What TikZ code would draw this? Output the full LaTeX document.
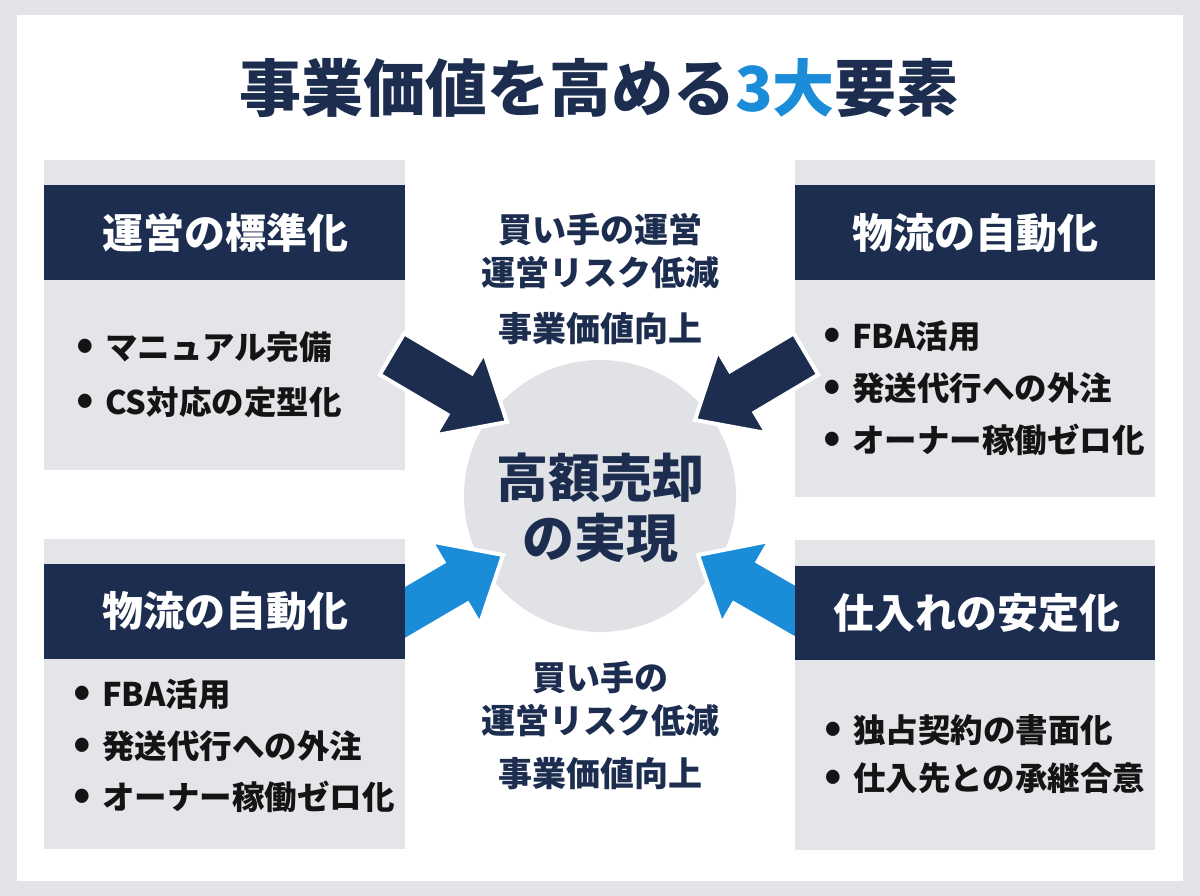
\documentclass[tikz,border=0pt]{standalone}
\usepackage{fontspec}
\setmainfont{Noto Sans CJK JP}
\usetikzlibrary{calc}
\definecolor{navy}{HTML}{1C2D4F}
\definecolor{skyblue}{HTML}{1A8CD8}
\definecolor{boxgray}{HTML}{E4E5E8}
\definecolor{circgray}{HTML}{E1E2E5}
\definecolor{pagegray}{HTML}{E2E4E7}
\definecolor{inkblack}{HTML}{141414}
\newcommand\blockarrow[3]{%
  \coordinate (hb) at ($(#3)!55pt!(#2)$);
  \filldraw[fill=#1, draw=white, line width=4pt, line join=miter]
    ($(#2)!24pt!90:(#3)$) -- ($(hb)!24pt!90:(#3)$) -- ($(hb)!48pt!90:(#3)$) -- (#3)
    -- ($(hb)!48pt!-90:(#3)$) -- ($(hb)!24pt!-90:(#3)$) -- ($(#2)!24pt!-90:(#3)$) -- cycle;}
\newcommand\bul[1]{\makebox[40pt][c]{\fontsize{44}{44}\selectfont •}#1}
\tikzset{
  fs/.style={font=\bfseries\fontsize{#1}{#1}\selectfont},
  panel/.style={fill=boxgray, draw=none},
  header/.style={fill=navy, draw=none},
  headtext/.style={fs=41, text=white, inner sep=0},
  item/.style={fs=32.5, text=inkblack, anchor=west, inner sep=0},
  midtext/.style={fs=34, text=navy, inner sep=0},
}
\begin{document}
\begin{tikzpicture}[x=1pt,y=-1pt]
\useasboundingbox (0,0) rectangle (1200,896);
\fill[pagegray] (0,0) rectangle (1200,896);
\fill[white] (17,15) rectangle (1183,881);

% title
\node[fs=62, text=navy, inner sep=0] (title) at (599,88) {事業価値を高める\textcolor{skyblue}{3大}要素};

% center circle
\node[circle, fill=circgray, minimum size=272pt, inner sep=0] (goal) at (600,496) {};
\node[fs=52, text=navy, inner sep=0] (goal1) at (600,478) {高額売却};
\node[fs=52, text=navy, inner sep=0] (goal2) at (600,538) {の実現};

% bottom arrows (behind boxes)
\coordinate (blA) at (375,630); \coordinate (blB) at (503,555);
\coordinate (brA) at (828,630); \coordinate (brB) at (698,555);
\blockarrow{skyblue}{blA}{blB}
\blockarrow{skyblue}{brA}{brB}

% top-left box
\fill[panel] (44,160) rectangle (405,470);
\fill[header] (44,185) rectangle (405,280);
\node[headtext] (tlh) at (225,233) {運営の標準化};
\node[item] (tl1) at (65,347) {\bul{マニュアル完備}};
\node[item] (tl2) at (65,402) {\bul{CS対応の定型化}};

% top-right box
\fill[panel] (795,160) rectangle (1155,497);
\fill[header] (795,185) rectangle (1155,280);
\node[headtext] (trh) at (975,233) {物流の自動化};
\node[item] (tr1) at (812,336) {\bul{FBA活用}};
\node[item] (tr2) at (812,388) {\bul{発送代行への外注}};
\node[item] (tr3) at (812,440) {\bul{オーナー稼働ゼロ化}};

% bottom-left box
\fill[panel] (44,539) rectangle (405,849);
\fill[header] (44,564) rectangle (405,659);
\node[headtext] (blh) at (225,611) {物流の自動化};
\node[item] (bl1) at (62,694) {\bul{FBA活用}};
\node[item] (bl2) at (62,746) {\bul{発送代行への外注}};
\node[item] (bl3) at (62,797) {\bul{オーナー稼働ゼロ化}};

% bottom-right box
\fill[panel] (795,540) rectangle (1155,850);
\fill[header] (795,566) rectangle (1155,660);
\node[headtext] (brh) at (977,613) {仕入れの安定化};
\node[item] (br1) at (813,730) {\bul{独占契約の書面化}};
\node[item] (br2) at (813,778) {\bul{仕入先との承継合意}};

% top arrows (over boxes)
\coordinate (tlA) at (392,354); \coordinate (tlB) at (507,422);
\coordinate (trA) at (806,354); \coordinate (trB) at (695,420);
\blockarrow{navy}{tlA}{tlB}
\blockarrow{navy}{trA}{trB}

% middle texts
\node[midtext] (mt1) at (600,230) {買い手の運営};
\node[midtext] (mt2) at (600,273) {運営リスク低減};
\node[midtext] (mt3) at (600,329) {事業価値向上};
\node[midtext] (mb1) at (600,678) {買い手の};
\node[midtext] (mb2) at (600,721) {運営リスク低減};
\node[midtext] (mb3) at (600,774) {事業価値向上};
\end{tikzpicture}
\end{document}
